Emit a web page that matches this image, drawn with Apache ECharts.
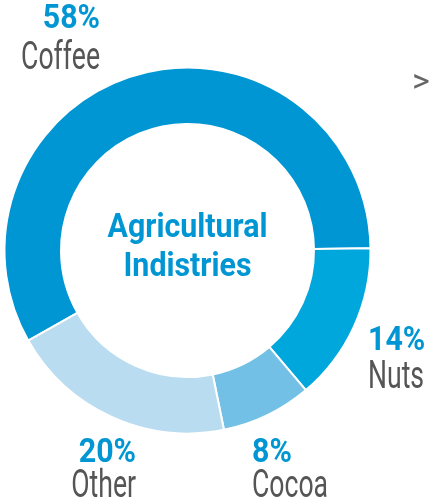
<!DOCTYPE html>
<html>
<head>
<meta charset="utf-8">
<script src="https://cdn.jsdelivr.net/npm/echarts@6/dist/echarts.min.js"></script>
<style>
  html, body { margin: 0; padding: 0; background: #fff; }
  #chart { width: 429px; height: 504px; }
</style>
</head>
<body>
<div id="chart"></div>
<script>
// Share of agricultural industries, in percent
const categories = ['Coffee', 'Nuts', 'Cocoa', 'Other'];
const shares = [58, 14, 8, 20];
const centerTitle = ['Agricultural', 'Indistries'];

const sliceColors = ['#0095D3', '#00A7DC', '#72C0E5', '#BADCF0'];
const BLUE = '#0096D3';
const GREY = '#555555';
const FONT = "Roboto, 'Liberation Sans', sans-serif";

// Anchor of each slice's label block: percent line and name line
const labelSpots = [
  { x: 100, pctY: 20, nameY: 59.5, align: 'right' },
  { x: 368, pctY: 341.5, nameY: 378, align: 'left' },
  { x: 252, pctY: 453.5, nameY: 487, align: 'left' },
  { x: 136, pctY: 453.5, nameY: 487, align: 'right' }
];

// Condensed look obtained by squeezing the text horizontally
function squeezedText(text, x, y, align, size, weight, color, sx) {
  return {
    type: 'text',
    x: x,
    y: y,
    scaleX: sx,
    silent: true,
    style: {
      text: text,
      fontFamily: FONT,
      fontWeight: weight,
      fontSize: size,
      fill: color,
      align: align,
      verticalAlign: 'middle'
    }
  };
}

const labels = [];
categories.forEach((name, i) => {
  const s = labelSpots[i];
  labels.push(squeezedText(shares[i] + '%', s.x, s.pctY, s.align, 33, 'bold', BLUE, 0.92));
  labels.push(squeezedText(name, s.x, s.nameY, s.align, 38, 'normal', GREY, 0.7));
});
labels.push(squeezedText(centerTitle[0], 187.5, 228.5, 'center', 33, 'bold', BLUE, 0.92));
labels.push(squeezedText(centerTitle[1], 187.5, 267.5, 'center', 33, 'bold', BLUE, 0.92));
labels.push(squeezedText('>', 421, 83, 'center', 34, 'normal', '#666666', 1));

const chart = echarts.init(document.getElementById('chart'), null, { renderer: 'canvas' });

chart.setOption({
  animation: false,
  series: [{
    type: 'pie',
    center: [187.5, 250.5],
    radius: [126.5, 183],
    startAngle: 209.5,
    clockwise: true,
    itemStyle: { borderColor: '#ffffff', borderWidth: 2 },
    emphasis: { disabled: true },
    label: { show: false },
    labelLine: { show: false },
    data: categories.map((name, i) => ({
      name: name,
      value: shares[i],
      itemStyle: { color: sliceColors[i] }
    }))
  }],
  graphic: labels
});
</script>
</body>
</html>
